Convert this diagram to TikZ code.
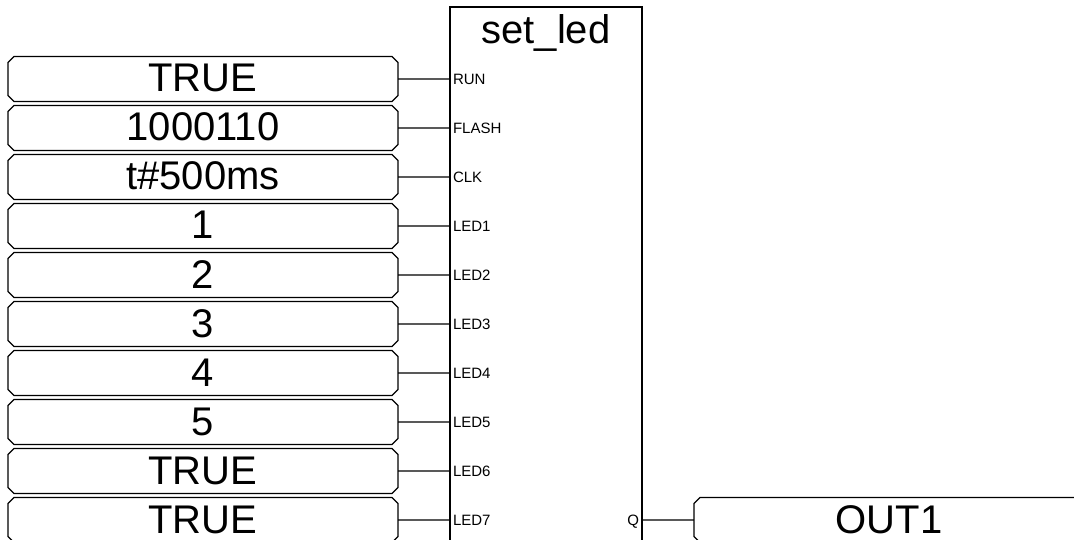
\documentclass[tikz,border=0pt]{standalone}
\usepackage{fontspec}
\setmainfont{Liberation Sans}
\usetikzlibrary{positioning,shapes.misc}
\begin{document}
\begin{tikzpicture}[
  x=1pt, y=-1pt,
  node distance=4pt,
  line width=1.4pt,
  valbox/.style={draw, chamfered rectangle, chamfered rectangle xsep=3pt, chamfered rectangle ysep=3pt, outer sep=0pt, inner sep=0pt, minimum width=390pt, minimum height=45pt, text height=28pt, text depth=2pt, font=\fontsize{40}{40}\selectfont},
  fblock/.style={draw, outer sep=0pt, minimum width=192pt, minimum height=560pt},
  portlbl/.style={inner xsep=3pt, inner ysep=0pt, outer sep=0pt, text height=11pt, text depth=0pt, font=\fontsize{15}{15}\selectfont},
  wire/.style={line width=1.4pt}
]
\clip (0,0) rectangle (1074,540);
\node[fblock, anchor=north west] (setled) at (450,7) {};
\node[anchor=north, inner sep=0pt, font=\fontsize{40}{40}\selectfont] (title) at (546,14) {set\_led};
\node[valbox] (val1) at (203,79) {TRUE};
\node[valbox, below=of val1] (val2) {1000110};
\node[valbox, below=of val2] (val3) {t\#500ms};
\node[valbox, below=of val3] (val4) {1};
\node[valbox, below=of val4] (val5) {2};
\node[valbox, below=of val5] (val6) {3};
\node[valbox, below=of val6] (val7) {4};
\node[valbox, below=of val7] (val8) {5};
\node[valbox, below=of val8] (val9) {TRUE};
\node[valbox, below=of val9] (val10) {TRUE};
\node[portlbl, right=52pt of val1] (run) {RUN};
\node[portlbl, right=52pt of val2] (flash) {FLASH};
\node[portlbl, right=52pt of val3] (clk) {CLK};
\node[portlbl, right=52pt of val4] (led1) {LED1};
\node[portlbl, right=52pt of val5] (led2) {LED2};
\node[portlbl, right=52pt of val6] (led3) {LED3};
\node[portlbl, right=52pt of val7] (led4) {LED4};
\node[portlbl, right=52pt of val8] (led5) {LED5};
\node[portlbl, right=52pt of val9] (led6) {LED6};
\node[portlbl, right=52pt of val10] (led7) {LED7};
\node[portlbl, anchor=east] (q) at (setled.east |- led7) {Q};
\node[valbox, right=52pt of q] (out1) {OUT1};
\draw[wire] (val1) -- (run);
\draw[wire] (val2) -- (flash);
\draw[wire] (val3) -- (clk);
\draw[wire] (val4) -- (led1);
\draw[wire] (val5) -- (led2);
\draw[wire] (val6) -- (led3);
\draw[wire] (val7) -- (led4);
\draw[wire] (val8) -- (led5);
\draw[wire] (val9) -- (led6);
\draw[wire] (val10) -- (led7);
\draw[wire] (q) -- (out1);
\end{tikzpicture}
\end{document}
